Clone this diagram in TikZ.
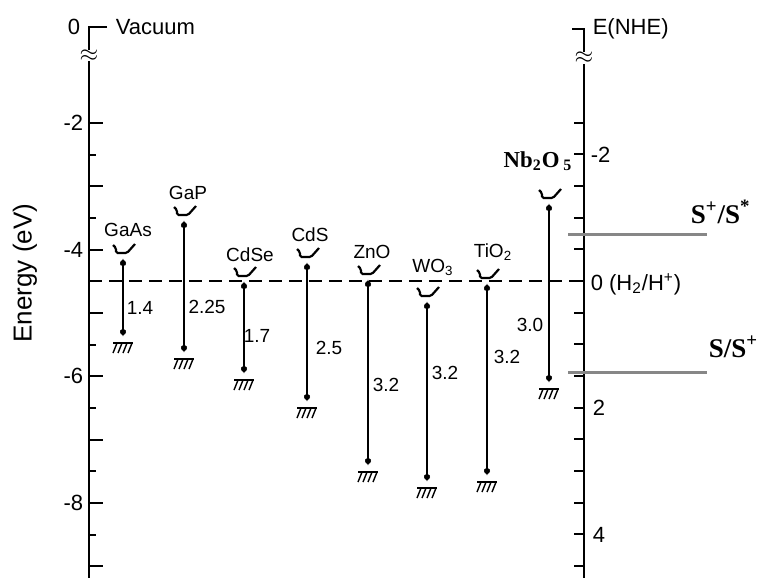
\documentclass[tikz,border=0pt]{standalone}
\usepackage{fontspec}
\setmainfont{Liberation Serif}
\setsansfont{Liberation Sans}
\usetikzlibrary{arrows.meta}
\tikzset{
  every picture/.style={line width=0.8pt},
  axis/.style={line width=1.1pt},
  tick/.style={line width=0.9pt},
  lbl/.style={font=\sffamily\fontsize{9.5}{10}\selectfont, inner sep=0pt},
  num/.style={font=\sffamily\fontsize{11}{12}\selectfont, inner sep=0pt},
  band/.style={line width=0.7pt, {Latex[length=3.5pt,width=3pt]}-{Latex[length=3.5pt,width=3pt]}},
  cup/.style={line width=1.1pt, rounded corners=0.8pt},
  couple/.style={draw=black!47, line width=1.5pt},
  redox/.style={font=\rmfamily\bfseries\fontsize{13.5}{14}\selectfont, inner sep=0pt},
}

\begin{document}
\begin{tikzpicture}[x=0.5pt, y=-0.5pt]
  \useasboundingbox (0,0) rectangle (758,578);
  % vacuum scale (left)
  \draw[axis] (107,27) -- (89,27) -- (89,50);
  \draw[axis] (89,61) -- (89,578);
  \node[inner sep=0pt] (brkL) at (89,55.5) {\fontsize{13}{13}\selectfont$\approx$};
  \foreach \e in {-2,...,-9} \draw[tick] (89,{123+(-2-\e)*63.33}) -- ++(14,0);
  \foreach \e in {-2.5,-3.5,...,-8.5} \draw[tick] (89,{123+(-2-\e)*63.33}) -- ++(7,0);
  \foreach \e in {-2,-4,-6,-8} \node[num, anchor=east] (eL\e) at (84,{123+(-2-\e)*63.33}) {\e};
  \node[num, anchor=east] (zeroL) at (81,27) {0};
  \node[num, anchor=west] (vac) at (115,27) {Vacuum};
  \node[num, font=\sffamily\fontsize{13}{14}\selectfont, rotate=90] (ylab) at (25,273) {Energy (eV)};
  % NHE scale (right)
  \draw[axis] (572,29) -- (584,29) -- (584,52);
  \draw[axis] (584,64) -- (584,578);
  \node[inner sep=0pt] (brkR) at (584,58) {\fontsize{13}{13}\selectfont$\approx$};
  \foreach \v in {-2.5,-2,...,4.5} \draw[tick] (584,{281+\v*63.33}) -- ++(-10,0);
  \node[num, anchor=west] (nhe) at (592,29) {E(NHE)};
  \node[num, anchor=west] (vR-2) at (590,155) {-2};
  \node[num, anchor=west] (vR0) at (590,284) {0 (H\textsubscript{2}/H\textsuperscript{+})};
  \node[num, anchor=west] (vR2) at (592,408) {2};
  \node[num, anchor=west] (vR4) at (592,535) {4};
  % hydrogen level
  \coordinate (h2L) at (89,281);
  \coordinate (h2R) at (584,281);
  \draw[dash pattern=on 6.5pt off 3.5pt] (h2L) -- (h2R);
  % semiconductors: name/x/cb/vb/label x/label y/text/gap/gap x/gap y
  \foreach \nm/\x/\cb/\vb/\lx/\ly/\txt/\gap/\gx/\gy in {
      GaAs/123/258/337/128/230/GaAs/1.4/140/308,
      GaP/184/220/353/188/193/GaP/2.25/207/307,
      CdSe/244/281/374/250/255/CdSe/1.7/257/336,
      CdS/307/262/402/310/235/CdS/2.5/329/348,
      ZnO/368/279/466/372/252/ZnO/3.2/386/385,
      WO/427/301/482/433/267/{WO\textsubscript{3}}/3.2/445/373,
      TiO/487/283/476/493/252/{TiO\textsubscript{2}}/3.2/507/357,
      NbO/549/203/383/538/160/{}/3.0/530/325} {
    \coordinate (\nm-cb) at (\x,\cb);
    \coordinate (\nm-vb) at (\x,\vb);
    \draw[band] (\nm-cb) -- (\nm-vb);
    \fill (\x,\cb+5) circle (1.5pt) (\x,\vb-5) circle (1.5pt);
    \draw[cup] (\x-10,\cb-13) -- (\x-7,\cb-10) -- (\x-7,\cb-5) -- (\x+4,\cb-5) -- (\x+12,\cb-14);
    \draw[line width=0.8pt] (\x-10,\vb+6) -- (\x+10,\vb+6);
    \foreach \k in {-6,-1,4,9} \draw[line width=0.7pt] (\x+\k,\vb+6) -- ++(-4,10);
    \node[lbl] (\nm-name) at (\lx,\ly) {\txt};
    \node[lbl] (\nm-gap) at (\gx,\gy) {\gap};
  }
  \node[font=\rmfamily\bfseries\fontsize{11.4}{12}\selectfont, inner sep=0pt] (NbO-label) at (538,161) {Nb\textsubscript{2}O\,\textsubscript{5}};
  % redox couples
  \coordinate (exL) at (568,234);
  \coordinate (exR) at (707,234);
  \coordinate (gdL) at (568,372);
  \coordinate (gdR) at (707,372);
  \draw[couple] (exL) -- (exR);
  \draw[couple] (gdL) -- (gdR);
  \node[redox, anchor=west] (ex) at (690,212) {S\textsuperscript{+}/S\textsuperscript{*}};
  \node[redox, anchor=west] (gd) at (708,347) {S/S\textsuperscript{+}};
\end{tikzpicture}
\end{document}
